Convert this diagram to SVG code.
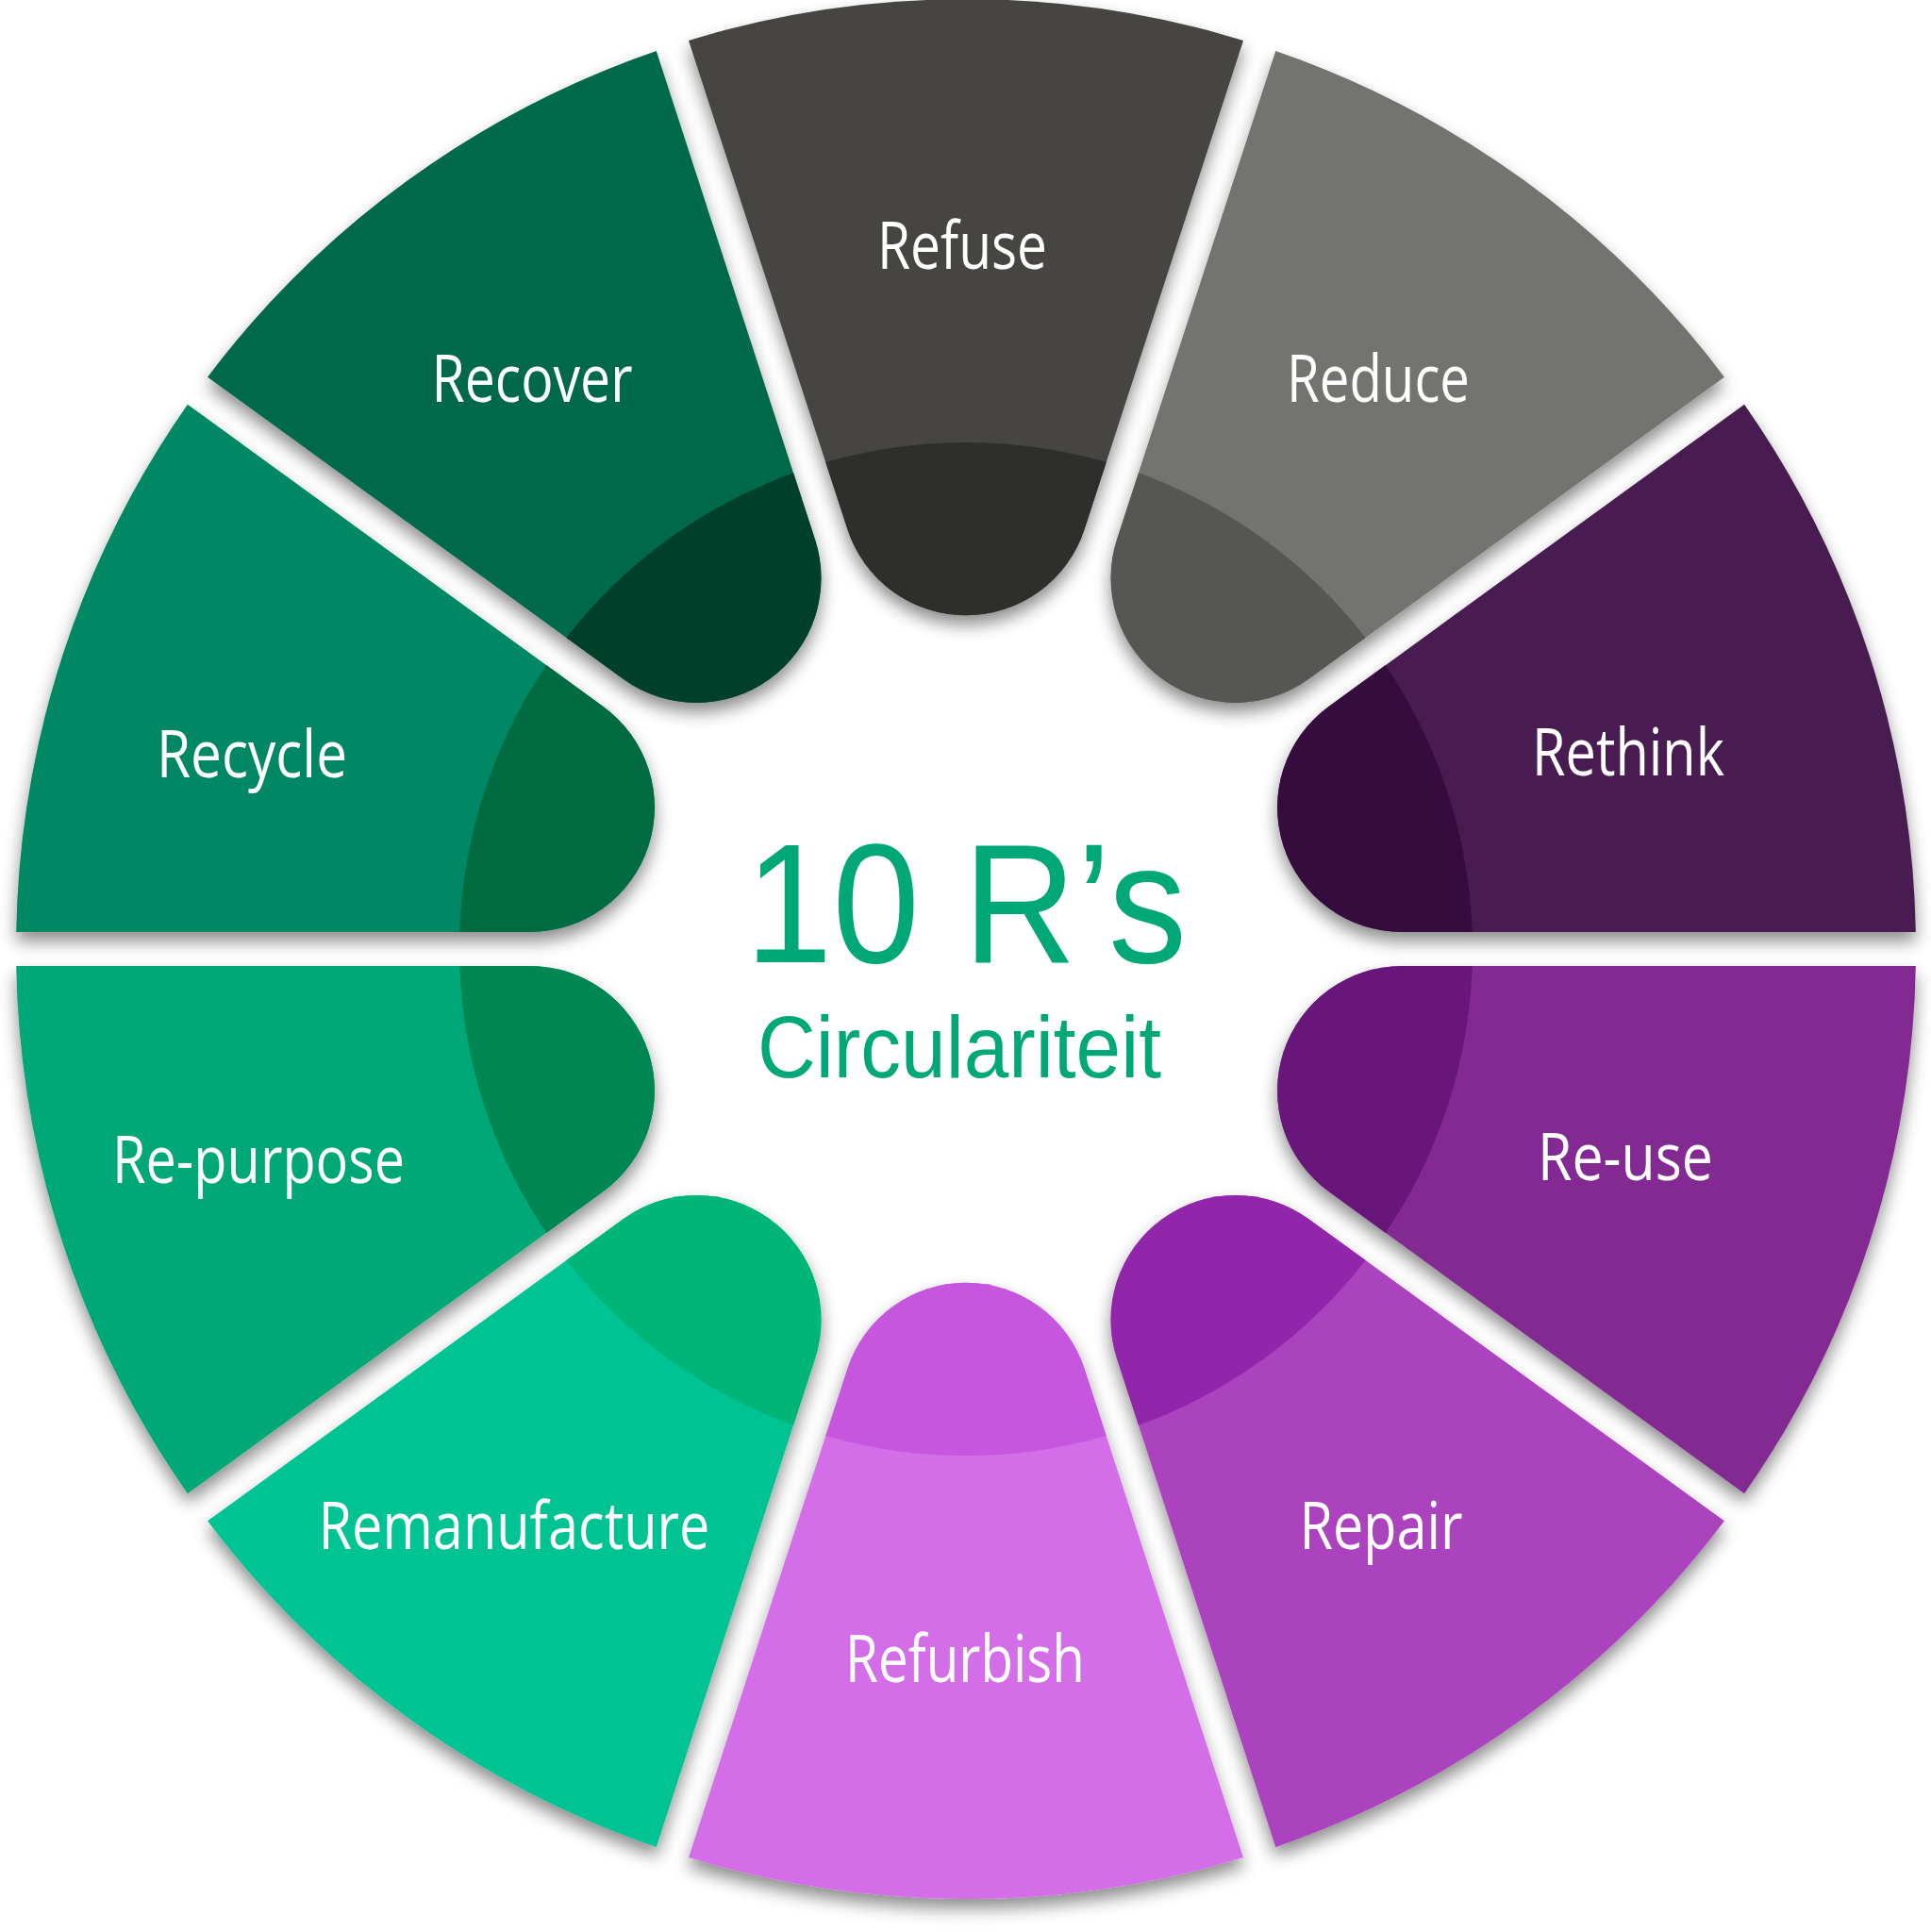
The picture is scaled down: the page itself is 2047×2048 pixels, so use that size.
<svg xmlns="http://www.w3.org/2000/svg" xmlns:xlink="http://www.w3.org/1999/xlink" width="2047" height="2048" viewBox="0 0 2047 2048">
  <style>
    .lbl { font-family: "Open Sans", "Liberation Sans", sans-serif; font-size: 70px; fill: #ffffff; text-anchor: middle; }
    .title { font-family: "Liberation Sans", Arial, sans-serif; fill: #00a878; text-anchor: middle; }
  </style>
  <defs>
    <filter id="sh" x="-20%" y="-20%" width="140%" height="140%">
      <feDropShadow dx="0" dy="10" stdDeviation="9" flood-color="#000000" flood-opacity="0.45"/>
    </filter>
    <path id="seg" d="M -294.01,-963.12 A 1007 1007 0 0 1 294.01,-963.12 L 125.71,-445.16 A 132.2 132.2 0 0 1 -125.71,-445.16 Z"/>
    <path id="segDark" d="M -148.73,-515.99 A 537 537 0 0 1 148.73,-515.99 L 125.71,-445.16 A 132.2 132.2 0 0 1 -125.71,-445.16 Z"/>
  </defs>
  <rect x="0" y="0" width="2047" height="2048" fill="#ffffff"/>

  <g id="refuse">
    <g filter="url(#sh)" transform="translate(1024 1006)">
      <use href="#seg" fill="#464543"/>
      <use href="#segDark" fill="#2f2e2c"/>
    </g>
    <text class="lbl" x="1020" y="285" textLength="180" lengthAdjust="spacingAndGlyphs">Refuse</text>
  </g>

  <g id="reduce">
    <g filter="url(#sh)">
      <g transform="translate(1024 1006) rotate(36)">
        <use href="#seg" fill="#737370"/>
        <use href="#segDark" fill="#575752"/>
      </g>
    </g>
    <text class="lbl" x="1461" y="426" textLength="194" lengthAdjust="spacingAndGlyphs">Reduce</text>
  </g>

  <g id="rethink">
    <g filter="url(#sh)">
      <g transform="translate(1024 1006) rotate(72)">
        <use href="#seg" fill="#4a1e51"/>
        <use href="#segDark" fill="#36103c"/>
      </g>
    </g>
    <text class="lbl" x="1726" y="822" textLength="204" lengthAdjust="spacingAndGlyphs">Rethink</text>
  </g>

  <g id="re-use">
    <g filter="url(#sh)">
      <g transform="translate(1024 1006) rotate(108)">
        <use href="#seg" fill="#832a92"/>
        <use href="#segDark" fill="#68187a"/>
      </g>
    </g>
    <text class="lbl" x="1723" y="1251" textLength="186" lengthAdjust="spacingAndGlyphs">Re-use</text>
  </g>

  <g id="repair">
    <g filter="url(#sh)">
      <g transform="translate(1024 1006) rotate(144)">
        <use href="#seg" fill="#ab42be"/>
        <use href="#segDark" fill="#9227ab"/>
      </g>
    </g>
    <text class="lbl" x="1464" y="1642" textLength="173" lengthAdjust="spacingAndGlyphs">Repair</text>
  </g>

  <g id="refurbish">
    <g filter="url(#sh)">
      <g transform="translate(1024 1006) rotate(180)">
        <use href="#seg" fill="#d46ee8"/>
        <use href="#segDark" fill="#c557dd"/>
      </g>
    </g>
    <text class="lbl" x="1023" y="1783" textLength="254" lengthAdjust="spacingAndGlyphs">Refurbish</text>
  </g>

  <g id="remanufacture">
    <g filter="url(#sh)">
      <g transform="translate(1024 1006) rotate(216)">
        <use href="#seg" fill="#05c393"/>
        <use href="#segDark" fill="#02b578"/>
      </g>
    </g>
    <text class="lbl" x="545" y="1642" textLength="415" lengthAdjust="spacingAndGlyphs">Remanufacture</text>
  </g>

  <g id="re-purpose">
    <g filter="url(#sh)">
      <g transform="translate(1024 1006) rotate(252)">
        <use href="#seg" fill="#00a878"/>
        <use href="#segDark" fill="#008653"/>
      </g>
    </g>
    <text class="lbl" x="274" y="1254" textLength="310" lengthAdjust="spacingAndGlyphs">Re-purpose</text>
  </g>

  <g id="recycle">
    <g filter="url(#sh)">
      <g transform="translate(1024 1006) rotate(288)">
        <use href="#seg" fill="#008763"/>
        <use href="#segDark" fill="#006a40"/>
      </g>
    </g>
    <text class="lbl" x="267" y="824" textLength="202" lengthAdjust="spacingAndGlyphs">Recycle</text>
  </g>

  <g id="recover">
    <g filter="url(#sh)">
      <g transform="translate(1024 1006) rotate(324)">
        <use href="#seg" fill="#00694a"/>
        <use href="#segDark" fill="#003f2b"/>
      </g>
    </g>
    <text class="lbl" x="564" y="426" textLength="213" lengthAdjust="spacingAndGlyphs">Recover</text>
  </g>

  <g id="connectors"></g>

  <g id="title">
    <text class="title" x="1024" y="1020" font-size="180" textLength="468" lengthAdjust="spacingAndGlyphs">10 R’s</text>
    <text class="title" x="1017" y="1142" font-size="93" textLength="428" lengthAdjust="spacingAndGlyphs">Circulariteit</text>
  </g>
</svg>
